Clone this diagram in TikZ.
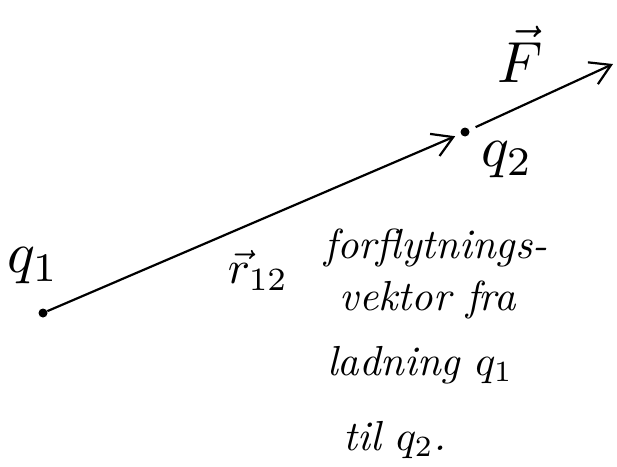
\documentclass[tikz,border=0pt]{standalone}
\usepackage{tikz}
\usetikzlibrary{arrows.meta}

\begin{document}
\begin{tikzpicture}[x=1pt, y=-1pt,
    charge/.style={circle, fill, inner sep=0pt, minimum size=9pt},
    vecline/.style={line width=2.2pt, -{Straight Barb[length=20pt, width=24pt, line width=2.2pt]}},
    symbol/.style={scale=5.8},
    note/.style={scale=4.2, font=\itshape}
]
\useasboundingbox (0,0) rectangle (617,466);

% Charges
\node[charge] (q1) at (43,313) {};
\node[charge] (q2) at (465,132) {};
\coordinate (Ftip) at (613,64);

% Vectors
\draw[vecline, shorten >=6pt] (q1) -- (q2);
\draw[vecline, shorten <=7pt] (q2) -- (Ftip);

% Symbols
\node[symbol] (Flabel) at (520,54) {$\vec F$};
\node[symbol] (q2label) at (507,160) {$q_2$};
\node[symbol] (q1label) at (33,266) {$q_1$};
\node[symbol, scale=0.8] (r12label) at (258,270) {$\vec r_{12}$};

% Explanation
\node[note] (line1) at (436,248) {forflytnings-};
\node[note] (line2) at (428,300) {vektor fra};
\node[note] (line3) at (420,365) {ladning $q_1$};
\node[note] (line4) at (395,440) {til $q_2$.};

\end{tikzpicture}
\end{document}
